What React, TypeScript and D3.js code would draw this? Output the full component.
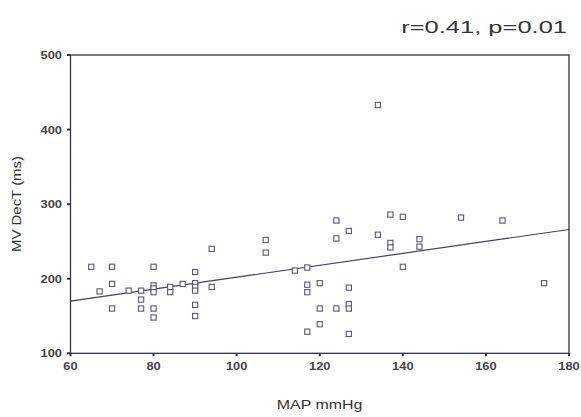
import React from 'react';
import * as d3 from 'd3';

// MAP (mmHg) vs MV DecT (ms)
const mapValues = [
  65, 67, 70, 70, 70, 74, 77, 77, 77,
  80, 80, 80, 80, 80, 80, 84, 84, 87,
  90, 90, 90, 90, 90, 90, 94, 94,
  107, 107, 114, 117, 117, 117, 117,
  120, 120, 120, 124, 124, 124,
  127, 127, 127, 127, 127,
  134, 134, 137, 137, 137, 140, 140, 144, 144,
  154, 164, 174,
];
const decTValues = [
  216, 183, 216, 193, 160, 184, 184, 172, 160,
  216, 191, 187, 182, 160, 148, 189, 182, 193,
  209, 194, 189, 184, 165, 150, 240, 189,
  252, 235, 211, 215, 192, 182, 129,
  194, 160, 139, 278, 254, 160,
  264, 188, 166, 160, 126,
  433, 259, 286, 248, 242, 283, 216, 253, 243,
  282, 278, 194,
];

const xTicks = [60, 80, 100, 120, 140, 160, 180];
const yTicks = [100, 200, 300, 400, 500];

// regression line y = a + b*x
const fitIntercept = 122;
const fitSlope = 0.8;

const statsLabel = 'r=0.41, p=0.01';

const W = 581;
const H = 417;
const margin = { top: 55, right: 12, bottom: 64, left: 70.5 };

export default function App() {
  const x = d3.scaleLinear()
    .domain([60, 180])
    .range([margin.left, W - margin.right]);
  const y = d3.scaleLinear()
    .domain([100, 500])
    .range([H - margin.bottom + 0.3, margin.top]);

  const points = mapValues.map((m, i) => [m, decTValues[i]]);
  const fit = d3.line()
    .x(d => x(d[0]))
    .y(d => y(d[1]));
  const fitData = x.domain().map(v => [v, fitIntercept + fitSlope * v]);

  const axisColor = '#2f3350';
  const textColor = '#444';
  const x0 = x.range()[0], x1 = x.range()[1];
  const y0 = y.range()[0], y1 = y.range()[1];

  return (
    <svg width={W} height={H} style={{ position: 'absolute', left: 0, top: 0, background: '#fff' }}
      fontFamily="Arial, 'Liberation Sans', sans-serif">
      <g transform="translate(567,32.5) scale(1.3,1)">
        <text x={0} y={0} fontSize={16} textAnchor="end" fill="#333"
          textLength={127.5} lengthAdjust="spacingAndGlyphs">{statsLabel}</text>
      </g>

      <path d={fit(fitData)} fill="none" stroke="#3d4260" strokeWidth={1.2} />

      {points.map((d, i) => (
        <rect key={i} x={x(d[0]) - 2.6} y={y(d[1]) - 2.6} width={5.2} height={5.2}
          fill="#fff" stroke="#55597a" strokeWidth={1.1} />
      ))}

      <rect x={x0} y={y1} width={x1 - x0} height={y0 - y1} fill="none" stroke={axisColor} strokeWidth={1.3} />

      {xTicks.map(t => (
        <g key={t}>
          <line x1={x(t)} x2={x(t)} y1={y0} y2={y0 + 3} stroke={axisColor} strokeWidth={2} />
          <g transform={`translate(${x(t)},369.5) scale(1.12,1)`}>
            <text fontSize={11.5} fontWeight="bold" textAnchor="middle" fill={textColor}>{t}</text>
          </g>
        </g>
      ))}
      {yTicks.map(t => (
        <g key={t}>
          <line x1={x0 - 3.5} x2={x0} y1={y(t)} y2={y(t)} stroke={axisColor} strokeWidth={2} />
          <g transform={`translate(62,${y(t)}) scale(1.12,1)`}>
            <text dy="0.35em" fontSize={11.5} fontWeight="bold" textAnchor="end" fill={textColor}>{t}</text>
          </g>
        </g>
      ))}

      <g transform="translate(319.5,409) scale(1.18,1)">
        <text fontSize={13.5} textAnchor="middle" fill="#333">MAP mmHg</text>
      </g>
      <g transform="translate(21,204) rotate(-90) scale(1.15,1)">
        <text fontSize={13} textAnchor="middle" fill="#333">MV DecT (ms)</text>
      </g>
    </svg>
  );
}
